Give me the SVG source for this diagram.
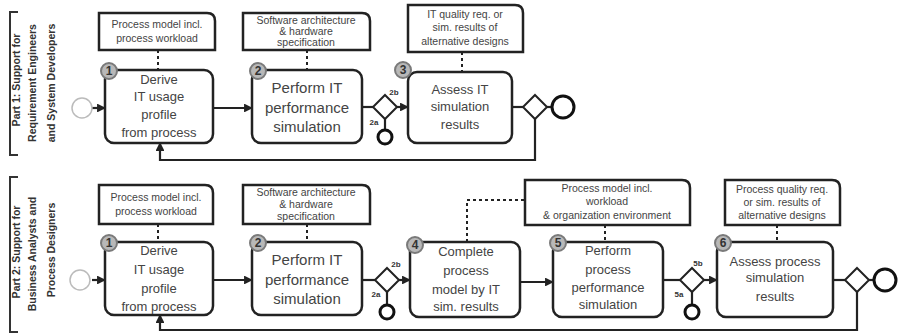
<svg xmlns="http://www.w3.org/2000/svg" width="898" height="334" viewBox="0 0 898 334">
<style>
.task{fill:#fff;stroke:#222;stroke-width:2.5}
.data{fill:#fff;stroke:#222;stroke-width:2.5}
.num{fill:#b8b8b8;stroke:#7a7a7a;stroke-width:2}
.numt{font-family:"Liberation Sans",Arial,sans-serif;font-size:12px;font-weight:bold;fill:#333;text-anchor:middle}
.t{font-family:"Liberation Sans",Arial,sans-serif;font-size:13px;fill:#444;text-anchor:middle}
.tl{font-family:"Liberation Sans",Arial,sans-serif;font-size:15px;fill:#444;text-anchor:middle}
.d{font-family:"Liberation Sans",Arial,sans-serif;font-size:10.5px;fill:#444;text-anchor:middle}
.side{font-family:"Liberation Sans",Arial,sans-serif;font-size:10.5px;font-weight:bold;fill:#333;text-anchor:middle}
.lab{font-family:"Liberation Sans",Arial,sans-serif;font-size:8px;font-weight:bold;fill:#333;text-anchor:middle}
.flow{fill:none;stroke:#222;stroke-width:2.2}
.assoc{fill:none;stroke:#222;stroke-width:2;stroke-dasharray:3 3}
.gw{fill:#fff;stroke:#222;stroke-width:2}
.end{fill:#fff;stroke:#111;stroke-width:3}
.start{fill:#fff;stroke:#bbb;stroke-width:1.5}
.br{fill:none;stroke:#333;stroke-width:2}
</style>
<defs>
<marker id="arr" viewBox="0 0 10 10" refX="9" refY="5" markerWidth="4" markerHeight="4" orient="auto"><path d="M0,0 L10,5 L0,10 z" fill="#222"/></marker>
</defs>

<!-- Side labels -->
<g id="part1">
<path class="br" d="M18,12 H10 V155 H18"/>
<text class="side" transform="translate(20,80) rotate(-90)">Part 1: Support for</text>
<text class="side" transform="translate(36,83) rotate(-90)">Requirement Engineers</text>
<text class="side" transform="translate(55,83) rotate(-90)">and System Developers</text>
</g>
<g id="part2">
<path class="br" d="M18,177 H10 V332 H18"/>
<text class="side" transform="translate(20,252) rotate(-90)">Part 2: Support for</text>
<text class="side" transform="translate(36,254) rotate(-90)">Business Analysts and</text>
<text class="side" transform="translate(55,250) rotate(-90)">Process Designers</text>
</g>

<!-- Connectors -->
<g id="connectors">
<!-- top row -->
<line class="flow" x1="92" y1="108" x2="105" y2="108" marker-end="url(#arr)"/>
<line class="flow" x1="213" y1="108" x2="252" y2="108" marker-end="url(#arr)"/>
<line class="flow" x1="362" y1="107" x2="373" y2="107"/>
<line class="flow" x1="397" y1="107" x2="408" y2="107" marker-end="url(#arr)"/>
<line class="flow" x1="385" y1="119" x2="385" y2="130"/>
<line class="flow" x1="512" y1="107" x2="523" y2="107"/>
<line class="flow" x1="547" y1="107" x2="551" y2="107"/>
<path class="flow" d="M535,119 V160 H160 V143" marker-end="url(#arr)"/>
<line class="assoc" x1="158" y1="50" x2="158" y2="70"/>
<line class="assoc" x1="307" y1="50" x2="307" y2="70"/>
<line class="assoc" x1="462" y1="52" x2="462" y2="72"/>
<!-- bottom row -->
<line class="flow" x1="92" y1="280" x2="105" y2="280" marker-end="url(#arr)"/>
<line class="flow" x1="213" y1="280" x2="252" y2="280" marker-end="url(#arr)"/>
<line class="flow" x1="362" y1="280" x2="375" y2="280"/>
<line class="flow" x1="399" y1="280" x2="410" y2="280" marker-end="url(#arr)"/>
<line class="flow" x1="387" y1="292" x2="387" y2="305"/>
<line class="flow" x1="520" y1="282" x2="553" y2="282" marker-end="url(#arr)"/>
<line class="flow" x1="663" y1="280" x2="680" y2="280"/>
<line class="flow" x1="704" y1="280" x2="717" y2="280" marker-end="url(#arr)"/>
<line class="flow" x1="692" y1="292" x2="692" y2="305"/>
<line class="flow" x1="833" y1="280" x2="845" y2="280"/>
<line class="flow" x1="869" y1="280" x2="873" y2="280"/>
<path class="flow" d="M857,292 V330 H160 V315" marker-end="url(#arr)"/>
<line class="assoc" x1="158" y1="224" x2="158" y2="242"/>
<line class="assoc" x1="307" y1="224" x2="307" y2="242"/>
<path class="assoc" d="M467,242 V200 H525"/>
<line class="assoc" x1="605" y1="225" x2="605" y2="242"/>
<line class="assoc" x1="777" y1="225" x2="777" y2="242"/>
</g>

<!-- TOP ROW NODES -->
<g id="start1"><circle class="start" cx="82" cy="108" r="10"/></g>
<g id="data1a">
<path class="data" d="M99,13 H207 Q215,13 215,21 V50 H99 Z"/>
<text class="d" x="157" y="28">Process model incl.</text>
<text class="d" x="157" y="42">process workload</text>
</g>
<g id="task1a">
<rect class="task" x="105" y="70" width="108" height="73" rx="9"/>
<circle class="num" cx="109" cy="71" r="8"/><text class="numt" x="109" y="75">1</text>
<text class="t" x="159" y="84">Derive</text>
<text class="t" x="159" y="101">IT usage</text>
<text class="t" x="159" y="119">profile</text>
<text class="t" x="159" y="137">from process</text>
</g>
<g id="data2a">
<path class="data" d="M243,13 H362 Q370,13 370,21 V50 H243 Z"/>
<text class="d" x="306" y="24">Software architecture</text>
<text class="d" x="306" y="35">&amp; hardware</text>
<text class="d" x="306" y="46">specification</text>
</g>
<g id="task2a">
<rect class="task" x="252" y="70" width="110" height="73" rx="9"/>
<circle class="num" cx="258" cy="71" r="8"/><text class="numt" x="258" y="75">2</text>
<text class="tl" x="307" y="93">Perform IT</text>
<text class="tl" x="307" y="113">performance</text>
<text class="tl" x="307" y="132">simulation</text>
</g>
<g id="gw2a">
<path class="gw" d="M385,95 L397,107 L385,119 L373,107 Z"/>
<text class="lab" x="394" y="95">2b</text>
<text class="lab" x="374" y="125">2a</text>
</g>
<g id="end2a"><circle class="end" cx="385" cy="137" r="7"/></g>
<g id="data3a">
<path class="data" d="M408,5 H515 Q523,5 523,13 V52 H408 Z"/>
<text class="d" x="465" y="18">IT quality req. or</text>
<text class="d" x="465" y="31">sim. results of</text>
<text class="d" x="465" y="45">alternative designs</text>
</g>
<g id="task3a">
<rect class="task" x="408" y="72" width="104" height="71" rx="9"/>
<circle class="num" cx="403" cy="70" r="8"/><text class="numt" x="403" y="74">3</text>
<text class="t" x="460" y="94">Assess IT</text>
<text class="t" x="460" y="111">simulation</text>
<text class="t" x="460" y="129">results</text>
</g>
<g id="gw3a"><path class="gw" d="M535,95 L547,107 L535,119 L523,107 Z"/></g>
<g id="end3a"><circle class="end" cx="563" cy="107" r="11"/></g>

<!-- BOTTOM ROW NODES -->
<g id="start1b"><circle class="start" cx="80" cy="280" r="10"/></g>
<g id="data1b">
<path class="data" d="M99,185 H205 Q213,185 213,193 V224 H99 Z"/>
<text class="d" x="156" y="201">Process model incl.</text>
<text class="d" x="156" y="215">process workload</text>
</g>
<g id="task1b">
<rect class="task" x="105" y="242" width="108" height="73" rx="9"/>
<circle class="num" cx="109" cy="243" r="8"/><text class="numt" x="109" y="247">1</text>
<text class="t" x="159" y="255">Derive</text>
<text class="t" x="159" y="274">IT usage</text>
<text class="t" x="159" y="293">profile</text>
<text class="t" x="159" y="311">from process</text>
</g>
<g id="data2b">
<path class="data" d="M243,185 H362 Q370,185 370,193 V224 H243 Z"/>
<text class="d" x="306" y="196">Software architecture</text>
<text class="d" x="306" y="208">&amp; hardware</text>
<text class="d" x="306" y="220">specification</text>
</g>
<g id="task2b">
<rect class="task" x="252" y="242" width="110" height="73" rx="9"/>
<circle class="num" cx="258" cy="243" r="8"/><text class="numt" x="258" y="247">2</text>
<text class="tl" x="307" y="265">Perform IT</text>
<text class="tl" x="307" y="285">performance</text>
<text class="tl" x="307" y="304">simulation</text>
</g>
<g id="gw2b">
<path class="gw" d="M387,268 L399,280 L387,292 L375,280 Z"/>
<text class="lab" x="396" y="267">2b</text>
<text class="lab" x="376" y="297">2a</text>
</g>
<g id="end2b"><circle class="end" cx="387" cy="312" r="7"/></g>
<g id="task4b">
<rect class="task" x="410" y="242" width="110" height="75" rx="9"/>
<circle class="num" cx="415" cy="245" r="8"/><text class="numt" x="415" y="249">4</text>
<text class="t" x="466" y="256">Complete</text>
<text class="t" x="466" y="275">process</text>
<text class="t" x="466" y="294">model by IT</text>
<text class="t" x="466" y="311">sim. results</text>
</g>
<g id="data5b">
<path class="data" d="M525,180 H682 Q690,180 690,188 V225 H525 Z"/>
<text class="d" x="607" y="192">Process model incl.</text>
<text class="d" x="607" y="205">workload</text>
<text class="d" x="607" y="219">&amp; organization environment</text>
</g>
<g id="task5b">
<rect class="task" x="553" y="242" width="110" height="75" rx="9"/>
<circle class="num" cx="558" cy="243" r="8"/><text class="numt" x="558" y="247">5</text>
<text class="t" x="608" y="255">Perform</text>
<text class="t" x="608" y="274">process</text>
<text class="t" x="608" y="292">performance</text>
<text class="t" x="608" y="309">simulation</text>
</g>
<g id="gw5b">
<path class="gw" d="M692,268 L704,280 L692,292 L680,280 Z"/>
<text class="lab" x="698" y="266">5b</text>
<text class="lab" x="679" y="297">5a</text>
</g>
<g id="end5b"><circle class="end" cx="692" cy="312" r="7"/></g>
<g id="data6b">
<path class="data" d="M725,180 H832 Q840,180 840,188 V225 H725 Z"/>
<text class="d" x="782" y="193">Process quality req.</text>
<text class="d" x="782" y="206">or sim. results of</text>
<text class="d" x="782" y="219">alternative designs</text>
</g>
<g id="task6b">
<rect class="task" x="717" y="242" width="116" height="75" rx="9"/>
<circle class="num" cx="723" cy="243" r="8"/><text class="numt" x="723" y="247">6</text>
<text class="t" x="775" y="266">Assess process</text>
<text class="t" x="775" y="282">simulation</text>
<text class="t" x="775" y="301">results</text>
</g>
<g id="gw6b"><path class="gw" d="M857,268 L869,280 L857,292 L845,280 Z"/></g>
<g id="end6b"><circle class="end" cx="885" cy="280" r="11"/></g>
</svg>
